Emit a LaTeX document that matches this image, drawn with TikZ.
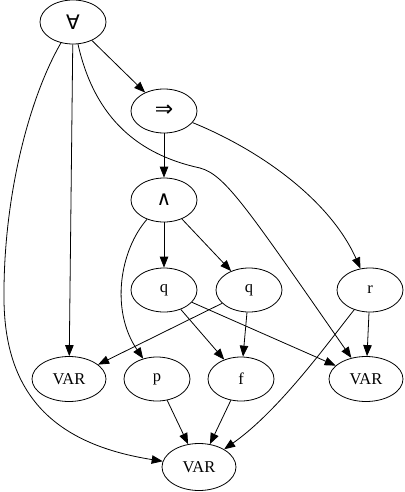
\documentclass[tikz,border=0pt]{standalone}
\usepackage{fontspec}
\setmainfont{Liberation Serif}
\newfontfamily\symfont{DejaVu Sans}
\usetikzlibrary{shapes.geometric,arrows.meta}
\begin{document}
\begin{tikzpicture}[x=1pt,y=-1pt,
  nd/.style={draw,ellipse,line width=0.8pt,inner sep=0pt,minimum width=66pt,minimum height=44pt,font=\fontsize{16.5}{19}\selectfont},
  vnd/.style={nd,minimum width=74pt,minimum height=45pt},
  edge/.style={line width=0.8pt,-{Triangle[length=11pt,width=8.5pt]}}]
\useasboundingbox (0,0) rectangle (404,492);
\node[nd] (forall) at (73,22) {\symfont\fontsize{20}{22}\selectfont ∀};
\node[nd] (imp) at (164,111) {\symfont\fontsize{22}{24}\selectfont ⇒};
\node[nd] (and) at (164,200) {\symfont\fontsize{20}{22}\selectfont ∧};
\node[nd] (q1) at (164,290) {q};
\node[nd] (q2) at (249,290) {q};
\node[nd] (r) at (370,290) {r};
\node[vnd] (var1) at (69,379) {VAR};
\node[nd] (p) at (157,379) {p};
\node[nd] (f) at (241,379) {f};
\node[vnd] (varr) at (366,379) {VAR};
\node[vnd,minimum height=47pt] (varb) at (199,467) {VAR};
\coordinate (c1) at (4,300);
\coordinate (c2) at (200,168);
\draw[edge] (forall) -- (imp);
\draw[edge] (forall) -- (var1);
\draw[edge] (forall) .. controls (28,100) and (3,200) .. (c1) .. controls (5,400) and (60,445) .. (varb);
\draw[edge] (forall) .. controls (95,120) and (140,155) .. (c2) .. controls (225,175) and (245,205) .. (varr);
\draw[edge] (imp) -- (and);
\draw[edge] (imp) .. controls (260,150) and (330,200) .. (r);
\draw[edge] (and) -- (q1);
\draw[edge] (and) -- (q2);
\draw[edge] (and) .. controls (120,250) and (110,310) .. (p);
\draw[edge] (q1) -- (f);
\draw[edge] (q1) -- (varr);
\draw[edge] (q2) -- (var1);
\draw[edge] (q2) -- (f);
\draw[edge] (r) -- (varr);
\draw[edge] (r) .. controls (330,340) and (280,410) .. (varb);
\draw[edge] (p) -- (varb);
\draw[edge] (f) -- (varb);
\end{tikzpicture}
\end{document}
